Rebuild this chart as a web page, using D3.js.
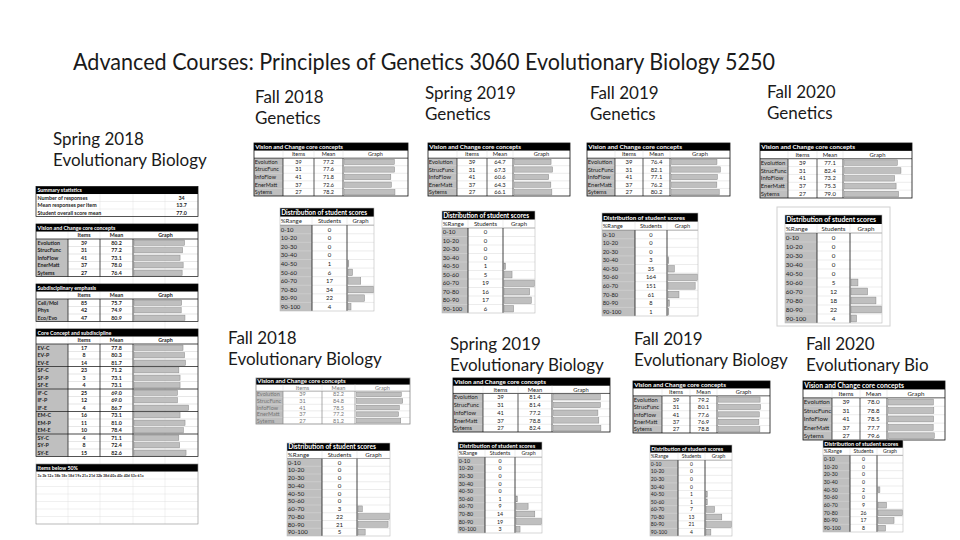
<!DOCTYPE html>
<html lang="en">
<head>
<meta charset="UTF-8">
<title>Advanced Courses</title>
<script src="https://d3js.org/d3.v7.min.js"></script>
<style>
  body { margin: 0; background: #fff; }
  svg { display: block; }
  text { font-family: Lato, "Open Sans", sans-serif; }
</style>
</head>
<body>
<script>
// ---- data ----
const concepts = ["Evolution", "StrucFunc", "InfoFlow", "EnerMatt", "Sytems"];
const conceptItems = [39, 31, 41, 37, 27];
const ranges = ["0-10", "10-20", "20-30", "30-40", "40-50", "50-60", "60-70", "70-80", "80-90", "90-100"];

const s18SummaryLabels = ["Number of responses", "Mean responses per item", "Student overall score mean"];
const s18SummaryValues = ["34", "13.7", "77.0"];
const s18Means = [80.2, 77.2, 73.1, 78.0, 76.4];
const subdiscLabels = ["Cell/Mol", "Phys", "Eco/Evo"];
const subdiscItems = [85, 42, 47];
const subdiscMeans = [75.7, 74.9, 80.9];
const coreLabels = ["EV-C", "EV-P", "EV-E", "SF-C", "SF-P", "SF-E", "IF-C", "IF-P", "IF-E", "EM-C", "EM-P", "EM-E", "SY-C", "SY-P", "SY-E"];
const coreItems = [17, 8, 14, 23, 3, 4, 25, 12, 4, 16, 11, 10, 4, 8, 15];
const coreMeans = [77.8, 80.3, 81.7, 71.2, 73.1, 73.1, 69.0, 69.0, 86.7, 73.1, 81.0, 78.4, 71.1, 72.4, 82.6];
const belowItems = "3a 3b 12a 18b 18c 18d 19a 21a 21d 32b 38d 40a 40c 40d 53c 61a";

const f18GenMeans = [77.2, 77.6, 71.8, 72.6, 78.2];
const s19GenMeans = [64.7, 67.3, 60.6, 64.3, 66.1];
const f19GenMeans = [76.4, 82.1, 77.1, 76.2, 80.2];
const f20GenMeans = [77.1, 82.4, 73.2, 75.3, 79.0];
const f18EvoMeans = [82.2, 84.8, 78.5, 77.2, 81.2];
const s19EvoMeans = [81.4, 81.4, 77.2, 78.8, 82.4];
const f19EvoMeans = [79.2, 80.1, 77.6, 76.9, 78.8];
const f20EvoMeans = [78.0, 78.8, 78.5, 77.7, 79.6];

const f18GenDist = [0, 0, 0, 0, 1, 6, 17, 34, 22, 4];
const s19GenDist = [0, 0, 0, 0, 1, 5, 19, 16, 17, 6];
const f19GenDist = [0, 0, 0, 3, 35, 164, 151, 61, 8, 1];
const f20GenDist = [0, 0, 0, 0, 0, 5, 12, 18, 22, 4];
const f18EvoDist = [0, 0, 0, 0, 0, 0, 3, 22, 21, 5];
const s19EvoDist = [0, 0, 0, 0, 0, 1, 9, 14, 19, 3];
const f19EvoDist = [0, 0, 0, 0, 1, 1, 7, 13, 21, 4];
const f20EvoDist = [0, 0, 0, 0, 2, 0, 9, 26, 17, 8];

// ---- layout ----
const title = "Advanced Courses: Principles of Genetics 3060 Evolutionary Biology 5250";
const headings = [
  { x: 53, y: 145, l1: "Spring 2018", l2: "Evolutionary Biology" },
  { x: 255, y: 103, l1: "Fall 2018", l2: "Genetics" },
  { x: 425, y: 99, l1: "Spring 2019", l2: "Genetics" },
  { x: 590, y: 99, l1: "Fall 2019", l2: "Genetics" },
  { x: 767, y: 98, l1: "Fall 2020", l2: "Genetics" },
  { x: 228, y: 344, l1: "Fall 2018", l2: "Evolutionary Biology" },
  { x: 450, y: 350, l1: "Spring 2019", l2: "Evolutionary Biology" },
  { x: 634, y: 345, l1: "Fall 2019", l2: "Evolutionary Biology" },
  { x: 806, y: 350, l1: "Fall 2020", l2: "Evolutionary Bio" }
];

// hw = width of the black header caption
const vcTables = [
  { cols: [254, 283, 314, 343, 408], y0: 143, y1: 196, hw: 88, means: f18GenMeans },
  { cols: [428, 457, 487, 513, 570], y0: 143, y1: 196, hw: 92, means: s19GenMeans },
  { cols: [587, 615, 643, 670, 730], y0: 143, y1: 196, hw: 94, means: f19GenMeans },
  { cols: [760, 788, 817, 843, 912], y0: 143, y1: 198, hw: 94, means: f20GenMeans },
  { cols: [256, 283, 322, 355, 410], y0: 378, y1: 424, hw: 92, means: f18EvoMeans, faded: true },
  { cols: [453, 483, 518, 552, 610], y0: 378, y1: 432, hw: 92, means: s19EvoMeans },
  { cols: [633, 662, 690, 717, 770], y0: 381, y1: 433, hw: 92, means: f19EvoMeans },
  { cols: [803, 832, 860, 887, 945], y0: 381, y1: 440, hw: 100, means: f20EvoMeans }
];

const distTables = [
  { cols: [280, 312, 347, 374], y0: 208, y1: 311, hw: 86, dist: f18GenDist },
  { cols: [442, 468, 503, 535], y0: 211, y1: 313, hw: 86, dist: s19GenDist },
  { cols: [602, 635, 667, 698], y0: 213, y1: 316, hw: 82, dist: f19GenDist },
  { cols: [785, 817, 850, 882], y0: 215, y1: 323, hw: 90, dist: f20GenDist, frame: [777, 207, 890, 326] },
  { cols: [287, 322, 357, 390], y0: 443, y1: 536, hw: 88, dist: f18EvoDist },
  { cols: [458, 485, 515, 542], y0: 442, y1: 533, hw: 76, dist: s19EvoDist },
  { cols: [650, 678, 705, 732], y0: 445, y1: 536, hw: 72, dist: f19EvoDist },
  { cols: [823, 850, 877, 903], y0: 440, y1: 532, hw: 74, dist: f20EvoDist }
];

const W = 960, H = 540;
const svg = d3.select("body").append("svg").attr("width", W).attr("height", H);
svg.append("rect").attr("width", W).attr("height", H).attr("fill", "#fff");

const GREY = "#bfbfbf", GRID = "#d9d9d9", BAR = "#bfbfbf", BARLINE = "#8a8a8a";

// font size that makes txt about `width` px wide
function fitSize(txt, width, weight) {
  const t = svg.append("text").attr("font-size", 10).attr("font-weight", weight).text(txt);
  const len = t.node().getComputedTextLength();
  t.remove();
  return 10 * width / len;
}

// title + headings
svg.append("text").attr("x", 73).attr("y", 70)
  .attr("font-size", 24).attr("fill", "#1a1a1a")
  .attr("textLength", 702).attr("lengthAdjust", "spacingAndGlyphs")
  .text(title);

headings.forEach(h => {
  const t = svg.append("text").attr("font-size", 17).attr("fill", "#1a1a1a");
  t.append("tspan").attr("x", h.x).attr("y", h.y).text(h.l1);
  t.append("tspan").attr("x", h.x).attr("y", h.y + 21).text(h.l2);
});

// text vertically centred on the row middle ym
function cell(g, x, ym, txt, opt = {}) {
  const size = opt.size || 5.4;
  return g.append("text").attr("x", x).attr("y", ym + size * 0.36)
    .attr("font-size", size)
    .attr("font-weight", opt.bold ? 700 : 400)
    .attr("fill", opt.fill || "#222")
    .attr("text-anchor", opt.anchor || "start")
    .text(txt);
}

function line(g, x1, y1, x2, y2, stroke, w) {
  g.append("line").attr("x1", x1).attr("y1", y1).attr("x2", x2).attr("y2", y2)
    .attr("stroke", stroke).attr("stroke-width", w);
}

// ---- Vision and Change tables ----
function drawVC(cfg) {
  const g = svg.append("g");
  const [x0, x1, x2, x3, x4] = cfg.cols;
  const y = d3.scaleBand().domain(d3.range(7)).range([cfg.y0, cfg.y1]);
  const bw = y.bandwidth();
  const cap = "Vision and Change core concepts";
  const hs = Math.min(fitSize(cap, cfg.hw, 700), bw * 0.92);
  const fs = Math.min(hs * 0.92, fitSize("StrucFunc", x1 - x0 - 1.5, 400));
  const ink = cfg.faded ? "#777" : "#222";
  const edge = cfg.faded ? "#888" : "#111";
  const xs = d3.scaleLinear().domain([0, 100]).range([x3 + 1.5, x4 + 1]);

  g.append("rect").attr("x", x0).attr("y", y(0)).attr("width", x4 - x0).attr("height", bw).attr("fill", "#000");
  cell(g, x0 + 1.2, y(0) + bw / 2, cap, { fill: "#fff", bold: true, size: hs });
  cell(g, (x1 + x2) / 2, y(1) + bw / 2, "Items", { anchor: "middle", fill: ink, size: fs });
  cell(g, (x2 + x3) / 2, y(1) + bw / 2, "Mean", { anchor: "middle", fill: ink, size: fs });
  cell(g, (x3 + x4) / 2, y(1) + bw / 2, "Graph", { anchor: "middle", fill: ink, size: fs });
  g.append("rect").attr("x", x0).attr("y", y(2)).attr("width", x1 - x0).attr("height", cfg.y1 - y(2)).attr("fill", GREY);

  concepts.forEach((c, i) => {
    const yy = y(i + 2);
    if (i > 0) line(g, x0, yy, x4, yy, GRID, 0.5);
    cell(g, x0 + 0.8, yy + bw / 2, c, { fill: ink, size: fs });
    cell(g, (x1 + x2) / 2, yy + bw / 2, conceptItems[i], { anchor: "middle", fill: ink, size: fs });
    cell(g, (x2 + x3) / 2, yy + bw / 2, cfg.means[i].toFixed(1), { anchor: "middle", fill: ink, size: fs });
    g.append("rect").attr("x", xs(0)).attr("y", yy + bw * 0.15)
      .attr("width", xs(cfg.means[i]) - xs(0)).attr("height", bw * 0.7)
      .attr("fill", BAR).attr("stroke", BARLINE).attr("stroke-width", 0.5);
  });

  line(g, x0, y(2), x4, y(2), edge, 0.7);
  [x1, x2, x3].forEach(x => line(g, x, y(2), x, cfg.y1, edge, 0.7));
  [x1, x2, x3].forEach(x => line(g, x, y(1), x, y(2), GRID, 0.5));
  g.append("rect").attr("x", x0).attr("y", cfg.y0).attr("width", x4 - x0).attr("height", cfg.y1 - cfg.y0)
    .attr("fill", "none").attr("stroke", edge).attr("stroke-width", 0.8);
}

// ---- distribution tables ----
function drawDist(cfg) {
  const g = svg.append("g");
  const [x0, x1, x2, x3] = cfg.cols;
  if (cfg.frame) {
    const [fx0, fy0, fx1, fy1] = cfg.frame;
    g.append("rect").attr("x", fx0).attr("y", fy0).attr("width", fx1 - fx0).attr("height", fy1 - fy0)
      .attr("fill", "#fff").attr("stroke", "#d0d0d0").attr("stroke-width", 1);
  }
  const y = d3.scaleBand().domain(d3.range(12)).range([cfg.y0, cfg.y1]);
  const bw = y.bandwidth();
  const cap = "Distribution of student scores";
  const hs = Math.min(fitSize(cap, cfg.hw, 700), bw * 0.92);
  const fs = Math.min(hs * 0.92, fitSize("Students", x2 - x1 - 2, 400));
  const xs = d3.scaleLinear().domain([0, d3.max(cfg.dist)]).range([x2 + 1, x3 - 0.5]);

  g.append("rect").attr("x", x0).attr("y", y(0)).attr("width", x3 - x0).attr("height", bw).attr("fill", "#000");
  cell(g, x0 + 1.2, y(0) + bw / 2, cap, { fill: "#fff", bold: true, size: hs });
  cell(g, x0 + 0.8, y(1) + bw / 2, "%Range", { size: fs });
  cell(g, (x1 + x2) / 2, y(1) + bw / 2, "Students", { anchor: "middle", size: fs });
  cell(g, (x2 + x3) / 2, y(1) + bw / 2, "Graph", { anchor: "middle", size: fs });
  g.append("rect").attr("x", x0).attr("y", y(2)).attr("width", x1 - x0).attr("height", cfg.y1 - y(2)).attr("fill", GREY);

  ranges.forEach((r, i) => {
    const yy = y(i + 2);
    line(g, x0, yy, x3, yy, i === 0 ? "#555" : GRID, 0.5);
    cell(g, x0 + 0.8, yy + bw / 2, r, { size: fs });
    cell(g, (x1 + x2) / 2, yy + bw / 2, cfg.dist[i], { anchor: "middle", size: fs });
    if (cfg.dist[i] > 0) {
      g.append("rect").attr("x", xs(0)).attr("y", yy + bw * 0.12)
        .attr("width", Math.max(0.8, xs(cfg.dist[i]) - xs(0))).attr("height", bw * 0.76)
        .attr("fill", BAR).attr("stroke", BARLINE).attr("stroke-width", 0.5);
    }
  });
  [x1, x2].forEach(x => line(g, x, y(2), x, cfg.y1, "#111", 0.8));
  [x1, x2].forEach(x => line(g, x, y(1), x, y(2), GRID, 0.5));
  g.append("rect").attr("x", x0).attr("y", cfg.y0).attr("width", x3 - x0).attr("height", cfg.y1 - cfg.y0)
    .attr("fill", "none").attr("stroke", "#bbb").attr("stroke-width", 0.6);
}

// ---- Spring 2018 large table ----
function drawBig() {
  const g = svg.append("g");
  const c = [36, 68, 100, 133, 165, 198];
  const y = d3.scaleBand().domain(d3.range(45)).range([186.5, 186.5 + 45 * 7.5]);
  const bw = y.bandwidth();
  const xs = d3.scaleLinear().domain([0, 100]).range([c[3] + 1, c[5] - 1]);
  const opt = { bold: true, size: 5.3 };

  // light spreadsheet grid
  d3.range(46).forEach(i => line(g, c[0], 186.5 + i * bw, c[5], 186.5 + i * bw, GRID, 0.4));
  c.forEach(x => line(g, x, 186.5, x, 186.5 + 45 * bw, GRID, 0.4));

  function header(row, txt) {
    g.append("rect").attr("x", c[0]).attr("y", y(row)).attr("width", c[5] - c[0]).attr("height", bw).attr("fill", "#000");
    cell(g, c[0] + 1.5, y(row) + bw / 2, txt, { bold: true, size: 5.3, fill: "#fff" });
  }

  header(0, "Summary statistics");
  s18SummaryLabels.forEach((l, i) => {
    cell(g, c[0] + 1.5, y(i + 1) + bw / 2, l, opt);
    cell(g, (c[4] + c[5]) / 2, y(i + 1) + bw / 2, s18SummaryValues[i], { ...opt, anchor: "middle" });
  });
  g.append("rect").attr("x", c[0]).attr("y", y(0)).attr("width", c[5] - c[0]).attr("height", 4 * bw)
    .attr("fill", "none").attr("stroke", "#111").attr("stroke-width", 0.7);

  function section(row, txt, labels, items, means, groupSize) {
    header(row, txt);
    const top = y(row + 2), bottom = y(row + 2) + labels.length * bw;
    cell(g, (c[1] + c[2]) / 2, y(row + 1) + bw / 2, "Items", { ...opt, anchor: "middle" });
    cell(g, (c[2] + c[3]) / 2, y(row + 1) + bw / 2, "Mean", { ...opt, anchor: "middle" });
    cell(g, (c[3] + c[5]) / 2, y(row + 1) + bw / 2, "Graph", { ...opt, anchor: "middle" });
    g.append("rect").attr("x", c[0]).attr("y", top).attr("width", c[1] - c[0]).attr("height", bottom - top).attr("fill", GREY);
    labels.forEach((l, i) => {
      const yy = y(row + 2 + i);
      line(g, c[1], yy, c[5], yy, GRID, 0.4);
      cell(g, c[0] + 1.5, yy + bw / 2, l, opt);
      cell(g, (c[1] + c[2]) / 2, yy + bw / 2, items[i], { ...opt, anchor: "middle" });
      cell(g, (c[2] + c[3]) / 2, yy + bw / 2, means[i].toFixed(1), { ...opt, anchor: "middle" });
      g.append("rect").attr("x", xs(0)).attr("y", yy + bw * 0.15)
        .attr("width", xs(means[i]) - xs(0)).attr("height", bw * 0.7)
        .attr("fill", BAR).attr("stroke", BARLINE).attr("stroke-width", 0.5);
      if (groupSize && i > 0 && i % groupSize === 0) line(g, c[0], yy, c[5], yy, "#111", 0.7);
    });
    line(g, c[0], top, c[5], top, "#111", 0.7);
    [c[1], c[2], c[3]].forEach(x => line(g, x, top, x, bottom, "#111", 0.7));
    g.append("rect").attr("x", c[0]).attr("y", y(row)).attr("width", c[5] - c[0]).attr("height", bottom - y(row))
      .attr("fill", "none").attr("stroke", "#111").attr("stroke-width", 0.7);
  }

  section(5, "Vision and Change core concepts", concepts, conceptItems, s18Means);
  section(13, "Subdisciplinary emphasis", subdiscLabels, subdiscItems, subdiscMeans);
  section(19, "Core Concept and subdiscipline", coreLabels, coreItems, coreMeans, 3);

  header(37, "Items below 50%");
  cell(g, c[0] + 1.5, y(38) + bw / 2, belowItems, { bold: true, size: 3.6 });
  g.append("rect").attr("x", c[0]).attr("y", y(37)).attr("width", c[5] - c[0]).attr("height", 8 * bw)
    .attr("fill", "none").attr("stroke", "#999").attr("stroke-width", 0.6);
}

drawBig();
vcTables.forEach(drawVC);
distTables.forEach(drawDist);
</script>
</body>
</html>
